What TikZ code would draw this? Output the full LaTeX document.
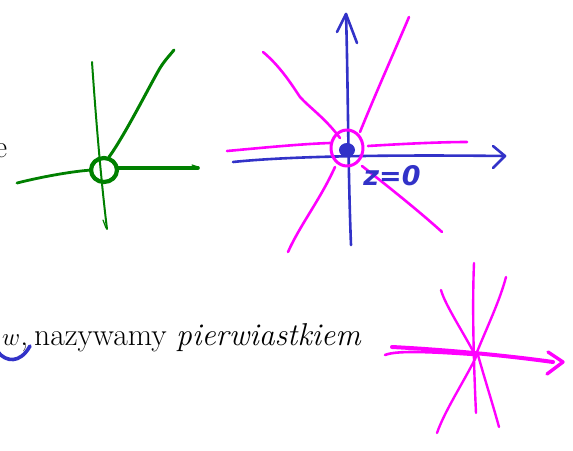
\documentclass[tikz,border=0pt]{standalone}
\usepackage{fontspec}
\newfontfamily\handfont{DejaVu Sans}
\definecolor{pgreen}{RGB}{0,128,0}
\definecolor{pblue}{RGB}{50,50,200}
\definecolor{pmag}{RGB}{255,0,255}
\begin{document}
\begin{tikzpicture}[x=1pt,y=-1pt,
  pen/.style={line cap=round,line join=round},
  gstroke/.style={pen,draw=pgreen,line width=3pt},
  bstroke/.style={pen,draw=pblue,line width=2.6pt},
  mstroke/.style={pen,draw=pmag,line width=2.6pt},
  bodytext/.style={inner sep=0pt,font=\fontsize{31.6}{38}\selectfont}]
\useasboundingbox (0,0) rectangle (573,450);
\begin{scope}
\clip (0,0) rectangle (573,450);
% text
\node[bodytext,anchor=base east] (etext) at (7.5,157) {e};
\node[bodytext,anchor=base west] (ltext) at (2,345) {$w$,\hspace{6pt}nazywamy \textit{pierwiastkiem}};
% blue underline
\draw[bstroke,line width=3.6pt] (-2,352) .. controls (6,362) and (20,364) .. (30,346);
\end{scope}

% ---------- green figure ----------
\draw[gstroke,line width=2pt] (92,62) .. controls (96,120) and (101,180) .. (107,229);
\draw[gstroke,line width=1.2pt] (103,220) -- (106,228);
\draw[gstroke,line width=2.8pt] (17,183) .. controls (45,176) and (75,171) .. (92,170);
\draw[gstroke,line width=3.6pt] (117,168) -- (198,168);
\draw[gstroke,line width=1.2pt] (192,165) -- (198,167);
\draw[gstroke,line width=3pt] (109,157) .. controls (125,135) and (150,85) .. (160,68) .. controls (165,60) and (170,55) .. (174,50);
\draw[gstroke,line width=4.2pt] (104,170) ellipse [x radius=13,y radius=12];

% ---------- magenta behind ----------
\draw[mstroke] (227,151) .. controls (260,148) and (300,144) .. (330,143);
\draw[mstroke] (368,146) .. controls (400,144) and (440,142) .. (467,142);
\draw[mstroke] (263,52) .. controls (280,66) and (292,85) .. (300,97) .. controls (310,108) and (325,118) .. (340,138);
\draw[mstroke] (360,132) .. controls (375,95) and (395,50) .. (409,17);
\draw[mstroke] (335,167) .. controls (320,200) and (300,225) .. (288,252);
\draw[mstroke] (362,166) .. controls (390,188) and (420,212) .. (442,232);

% ---------- blue axes ----------
\draw[bstroke] (351,245) .. controls (348,170) and (348,80) .. (346,14);
\draw[bstroke] (337,32) -- (346,14) -- (357,43);
\draw[bstroke] (233,162) .. controls (300,155) and (420,155) .. (505,156);
\draw[bstroke] (493,146) -- (505,156) -- (493,168);
\fill[pblue] (347,150) ellipse [x radius=8,y radius=7];
\node[text=pblue,font=\handfont\bfseries\itshape\fontsize{27}{30}\selectfont,inner sep=0pt] (zlabel) at (392,176) {z=0};

% magenta circle on top
\draw[mstroke,line width=3pt] (347,148) ellipse [x radius=16,y radius=18];

% ---------- bottom right magenta figure ----------
\draw[mstroke,line width=4pt] (392,347) .. controls (450,350) and (510,356) .. (553,362);
\draw[mstroke,line width=2.6pt] (385,355) .. controls (395,351) and (420,351) .. (475,355);
\draw[mstroke,line width=3.4pt] (548,352) -- (563,362) -- (547,374);
\draw[mstroke,line width=2.4pt] (474,263) .. controls (472,310) and (474,370) .. (476,413);
\draw[mstroke,line width=2.4pt] (441,290) .. controls (445,305) and (465,335) .. (475,355);
\draw[mstroke,line width=2.4pt] (506,277) .. controls (500,300) and (488,325) .. (477,352);
\draw[mstroke,line width=2.4pt] (477,355) .. controls (465,380) and (445,410) .. (437,433);
\draw[mstroke,line width=2.4pt] (478,355) .. controls (485,380) and (493,405) .. (499,427);
\end{tikzpicture}
\end{document}
